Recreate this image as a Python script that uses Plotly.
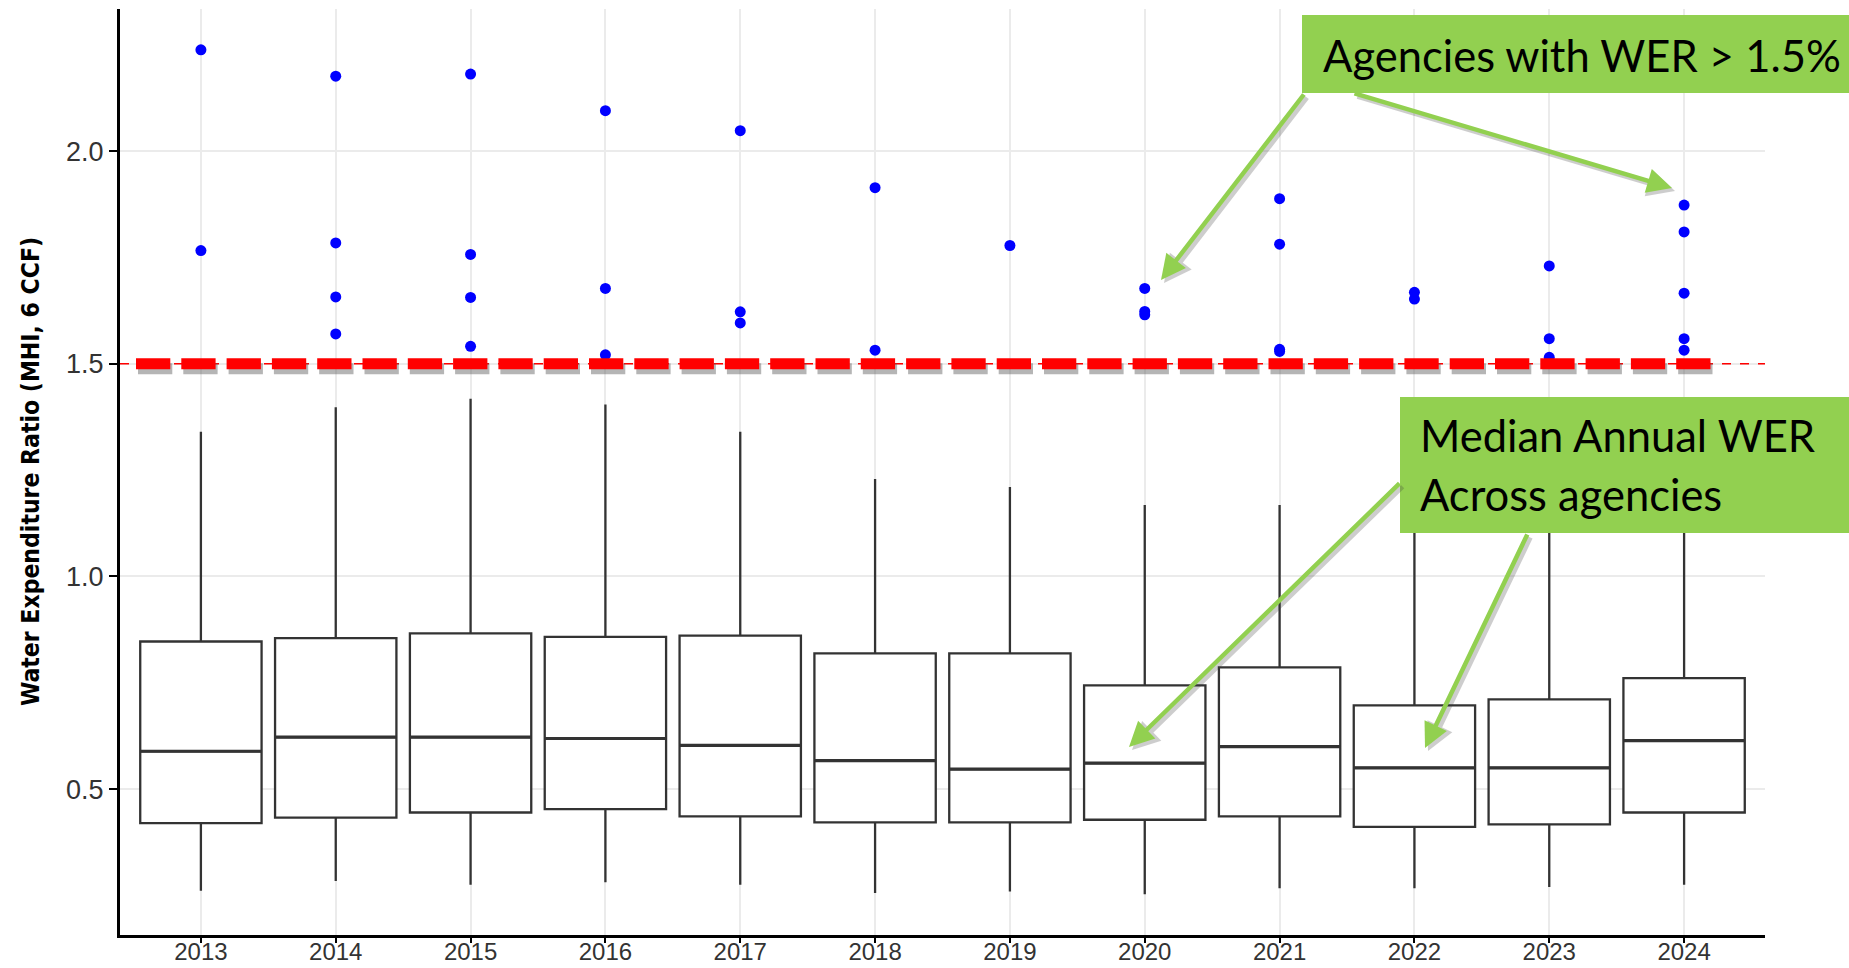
import plotly.graph_objects as go

# ---------------- data ----------------
years = ["2013", "2014", "2015", "2016", "2017", "2018",
         "2019", "2020", "2021", "2022", "2023", "2024"]
q1 = [0.420, 0.433, 0.445, 0.453, 0.436, 0.422, 0.422, 0.428, 0.436, 0.411, 0.417, 0.445]
median = [0.589, 0.622, 0.622, 0.619, 0.603, 0.567, 0.547, 0.561, 0.600, 0.550, 0.550, 0.614]
q3 = [0.847, 0.855, 0.866, 0.858, 0.861, 0.819, 0.819, 0.744, 0.786, 0.697, 0.711, 0.761]
lower_whisker = [0.261, 0.284, 0.275, 0.281, 0.275, 0.256, 0.259, 0.253, 0.267, 0.267, 0.270, 0.275]
upper_whisker = [1.340, 1.398, 1.418, 1.404, 1.340, 1.229, 1.210, 1.168, 1.168, 1.170, 1.200, 1.250]

outliers = [
    [2.238, 1.766],
    [2.176, 1.784, 1.657, 1.570],
    [2.181, 1.757, 1.656, 1.541],
    [2.095, 1.677, 1.521],
    [2.048, 1.622, 1.596],
    [1.914, 1.532],
    [1.778],
    [1.677, 1.623, 1.615],
    [1.888, 1.781, 1.534, 1.529],
    [1.668, 1.652],
    [1.730, 1.559, 1.515],
    [1.873, 1.810, 1.666, 1.559, 1.532],
]
threshold = 1.5
y_ticks = [0.5, 1.0, 1.5, 2.0]
y_tick_text = ["0.5", "1.0", "1.5", "2.0"]
y_title = "Water Expenditure Ratio (MHI, 6 CCF)"
label_outliers = "Agencies with WER > 1.5%"
label_median_1 = "Median Annual WER"
label_median_2 = "Across agencies"

# ---------------- figure ----------------
W, H = 1849, 968
ML, MR, MT, MB = 120, 84, 9, 33
PW = W - ML - MR
PH = H - MT - MB


def px_x(px):
    return (px - ML) / PW


def px_y(py):
    return (H - MB - py) / PH


out_x, out_y = [], []
for yr, vals in zip(years, outliers):
    for v in vals:
        out_x.append(yr)
        out_y.append(v)

fig = go.Figure()
fig.add_trace(go.Box(
    x=years, q1=q1, median=median, q3=q3,
    lowerfence=lower_whisker, upperfence=upper_whisker,
    boxpoints=False, width=0.9, whiskerwidth=0,
    line=dict(color="#333333", width=2.3),
    fillcolor="white", showlegend=False, hoverinfo="skip",
))
# thicker median bar (ggplot draws the median heavier than the box outline)
fig.add_trace(go.Box(
    x=years, q1=median, median=median, q3=median,
    lowerfence=median, upperfence=median,
    boxpoints=False, width=0.9, whiskerwidth=0,
    line=dict(color="#333333", width=3.2),
    fillcolor="rgba(0,0,0,0)", showlegend=False, hoverinfo="skip",
))
fig.add_trace(go.Scatter(
    x=out_x, y=out_y, mode="markers",
    marker=dict(color="#0000FF", size=11),
    showlegend=False,
))

GREEN = "#92D050"
shapes = [
    dict(type="line", xref="paper", yref="y", x0=0, x1=1, y0=threshold, y1=threshold,
         line=dict(color="#FF0000", width=1.5, dash="9px,9px"), layer="above"),
    dict(type="line", xref="paper", yref="y", xsizemode="pixel", ysizemode="pixel",
         xanchor=0, yanchor=threshold, x0=18, x1=1593, y0=-5, y1=-5,
         line=dict(color="rgba(90,90,90,0.45)", width=11, dash="34.3px,11px"), layer="above"),
    dict(type="line", xref="paper", yref="y", xsizemode="pixel", ysizemode="pixel",
         xanchor=0, yanchor=threshold, x0=16, x1=1592, y0=0, y1=0,
         line=dict(color="#FF0000", width=11, dash="34.3px,11px"), layer="above"),
    dict(type="rect", xref="paper", yref="paper",
         x0=px_x(1302), x1=px_x(1870), y0=px_y(93), y1=px_y(15),
         fillcolor=GREEN, line=dict(width=0), layer="above"),
    dict(type="rect", xref="paper", yref="paper",
         x0=px_x(1400), x1=px_x(1870), y0=px_y(533), y1=px_y(397),
         fillcolor=GREEN, line=dict(width=0), layer="above"),
]

arrows = [
    (1161, 280, 1305, 93),
    (1672, 188, 1353, 93),
    (1129, 747, 1401, 482),
    (1425, 748, 1528, 533),
]
annotations = []
for (tx, ty, sx, sy) in arrows:
    annotations.append(dict(
        x=px_x(tx), y=px_y(ty), xref="paper", yref="paper",
        ax=sx - tx, ay=sy - ty, text="", showarrow=True,
        arrowhead=2, arrowsize=1.1, arrowwidth=5,
        arrowcolor="rgba(60,60,60,0.25)", xshift=3, yshift=-3, standoff=0,
    ))
for (tx, ty, sx, sy) in arrows:
    annotations.append(dict(
        x=px_x(tx), y=px_y(ty), xref="paper", yref="paper",
        ax=sx - tx, ay=sy - ty, text="", showarrow=True,
        arrowhead=2, arrowsize=1.1, arrowwidth=4.5,
        arrowcolor=GREEN, standoff=0,
    ))

annot_font = dict(family="Lato, Open Sans, sans-serif", size=43.5, color="black")
annotations += [
    dict(x=px_x(1321), y=px_y(55), xref="paper", yref="paper", text=label_outliers,
         showarrow=False, xanchor="left", yanchor="middle", font=annot_font),
    dict(x=px_x(1418), y=px_y(435), xref="paper", yref="paper", text=label_median_1,
         showarrow=False, xanchor="left", yanchor="middle", font=annot_font),
    dict(x=px_x(1418), y=px_y(494), xref="paper", yref="paper", text=label_median_2,
         showarrow=False, xanchor="left", yanchor="middle", font=annot_font),
    dict(x=px_x(30), y=0.5, xref="paper", yref="paper", text="<b>" + y_title + "</b>",
         showarrow=False, textangle=-90, xanchor="center", yanchor="middle",
         font=dict(family="Liberation Sans Narrow, DejaVu Sans Condensed, Arial Narrow, sans-serif",
                   size=24.5, color="black")),
]

fig.update_layout(
    width=W, height=H,
    margin=dict(l=ML, r=MR, t=MT, b=MB, autoexpand=False),
    paper_bgcolor="white", plot_bgcolor="white",
    shapes=shapes, annotations=annotations,
    showlegend=False,
    xaxis=dict(
        type="category", categoryorder="array", categoryarray=years,
        range=[-0.6, 11.6], automargin=False,
        showgrid=True, gridcolor="#ebebeb", gridwidth=1.5,
        showline=True, linecolor="black", linewidth=3,
        ticks="outside", ticklen=5, tickwidth=2, tickcolor="black",
        ticklabelstandoff=-12,
        tickfont=dict(family="Liberation Sans, Arial, sans-serif", size=24, color="#333333"),
        zeroline=False,
    ),
    yaxis=dict(
        range=[0.157, 2.334], automargin=False,
        tickvals=y_ticks, ticktext=y_tick_text,
        showgrid=True, gridcolor="#ebebeb", gridwidth=1.5,
        showline=True, linecolor="black", linewidth=3,
        ticks="outside", ticklen=8, tickwidth=2, tickcolor="black",
        tickfont=dict(family="Liberation Sans, Arial, sans-serif", size=27, color="#333333"),
        zeroline=False,
    ),
)

fig.write_html(
    "out.html",
    config={"displayModeBar": False},
    post_script="document.body.style.margin='0px';document.body.style.overflow='hidden';",
)
